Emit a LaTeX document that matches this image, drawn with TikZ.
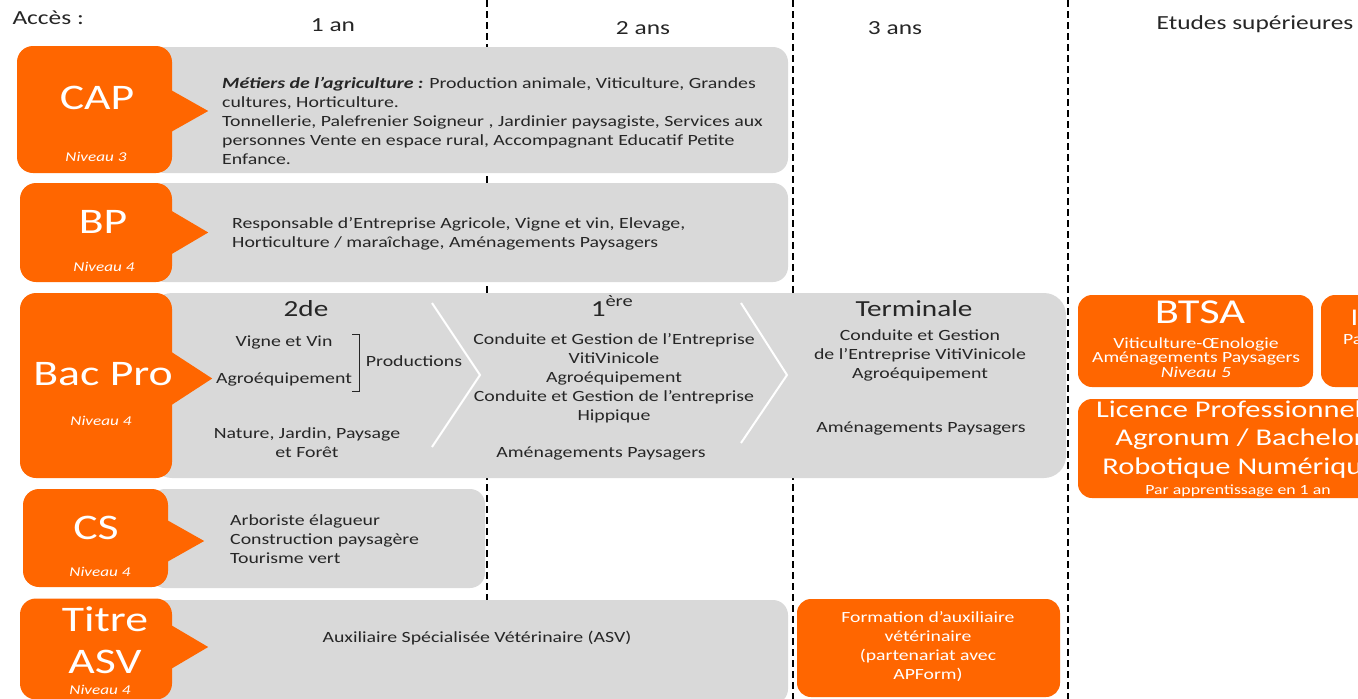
\documentclass[tikz,border=0pt]{standalone}
\usepackage{fontspec}
\setmainfont{Carlito}[FakeStretch=1.27]
\usetikzlibrary{positioning}
\definecolor{orangeL}{RGB}{255,102,0}
\definecolor{greyL}{RGB}{217,217,217}
\definecolor{txtL}{RGB}{38,38,38}
\newcommand{\fsz}[2]{\fontsize{#1}{#2}\selectfont}
\newcommand{\pointer}[4]{\fill[orangeL] ([xshift=-3pt, yshift=#4+#2]#1.east) -- ([xshift=#3, yshift=#4]#1.east) -- ([xshift=-3pt, yshift=#4-#2]#1.east) -- cycle;}

\begin{document}
\begin{tikzpicture}[
		x=1pt, y=-1pt,
		obox/.style={fill=orangeL, rounded corners=16pt, inner sep=0pt},
		gbox/.style={fill=greyL, rounded corners=15pt, inner sep=0pt},
		dashline/.style={black, line width=2pt, dash pattern=on 7pt off 4pt},
		head/.style={text=txtL, font=\fsz{20}{24}},
		big/.style={text=white, font=\fsz{36}{40}},
		niv/.style={text=white, font=\fsz{13.5}{15}\itshape},
		gtxt/.style={text=txtL, font=\fsz{15.6}{19}, align=left, inner sep=0pt},
		ctxt/.style={text=txtL, font=\fsz{15.6}{19}, align=center, inner sep=0pt},
		wtxt/.style={text=white, font=\fsz{15.5}{19}, align=center, inner sep=0pt},
		chev/.style={white, line width=2pt},
	]
	\useasboundingbox (0,0) rectangle (1358,699);
	\clip (0,0) rectangle (1358,699);

	\draw[dashline] (487,0) -- (487,699);
	\draw[dashline] (793,0) -- (793,699);
	\draw[dashline] (1068,0) -- (1068,699);

	\node[head, anchor=west] (acces) at (9,18) {Accès :};
	\node[head] (an1) at (333,25) {1 an};
	\node[head] (an2) at (643,28) {2 ans};
	\node[head] (an3) at (895,28) {3 ans};
	\node[head] (etudes) at (1255,24) {Etudes supérieures};

	% grey rows
	\node[gbox, minimum width=638, minimum height=126] (capg) at (469,110) {};
	\node[gbox, minimum width=638, minimum height=99] (bpg) at (469,232.5) {};
	\node[gbox, minimum width=916, minimum height=185, rounded corners=22pt] (bacg) at (608,385.5) {};
	\node[gbox, minimum width=335, minimum height=99] (csg) at (317.5,538.5) {};
	\node[gbox, minimum width=638, minimum height=104] (asvg) at (469,652) {};

	% orange heads
	\node[obox, minimum width=155, minimum height=127] (cap) at (94.5,109.5) {};
	\node[obox, minimum width=152, minimum height=99] (bp) at (96,232.5) {};
	\node[obox, minimum width=152, minimum height=185] (bacpro) at (96,385.5) {};
	\node[obox, minimum width=145, minimum height=98] (cs) at (95.5,538) {};
	\node[obox, minimum width=152, minimum height=101] (asv) at (96,649) {};

	\pointer{cap}{22pt}{36pt}{-1.5pt}
	\pointer{bp}{23pt}{36pt}{0pt}
	\pointer{bacpro}{28pt}{40pt}{7pt}
	\pointer{cs}{22pt}{36pt}{-3pt}
	\pointer{asv}{23pt}{36pt}{2pt}

	\node[big] (captit) at (97,98) {CAP};
	\node[niv] (capniv) at (96,157) {Niveau 3};
	\node[big] (bptit) at (103,222) {BP};
	\node[niv] (bpniv) at (104,267) {Niveau 4};
	\node[big] (bactit) at (103,374) {Bac Pro};
	\node[niv] (bacniv) at (101,421) {Niveau 4};
	\node[big] (cstit) at (96,528) {CS};
	\node[niv] (csniv) at (100,572) {Niveau 4};
	\node[big] (asvtit1) at (105,619) {Titre};
	\node[big] (asvtit2) at (105,662) {ASV};
	\node[niv] (asvniv) at (100,690) {Niveau 4};

	% row texts
	\node[gtxt, anchor=west] (captxt) at (222,120.5) {\textbf{\textit{Métiers de l’agriculture :}} Production  animale, Viticulture, Grandes\\cultures, Horticulture.\\Tonnellerie, Palefrenier Soigneur , Jardinier paysagiste, Services aux\\personnes Vente en espace rural, Accompagnant Educatif Petite\\Enfance.};
	\node[gtxt, anchor=west] (bptxt) at (232,233.5) {Responsable d’Entreprise Agricole, Vigne et vin, Elevage,\\Horticulture  / maraîchage, Aménagements  Paysagers};
	\node[gtxt, anchor=west] (cstxt) at (230,539.5) {Arboriste  élagueur\\Construction  paysagère\\Tourisme vert};
	\node[ctxt] (asvtxt) at (477,638) {Auxiliaire Spécialisée Vétérinaire (ASV)};

	% bac pro
	\draw[chev] (432,303) -- (480,375) -- (432,447);
	\draw[chev] (741,303) -- (787,375) -- (741,443);

	\node[head, font=\fsz{23}{24}] (seconde) at (306,309) {2de};
	\node[head, font=\fsz{23}{24}] (premiere) at (612,306) {1\textsuperscript{ère}};
	\node[head, font=\fsz{23}{24}] (terminale) at (914,309) {Terminale};

	\node[ctxt] (vigne) at (284,342) {Vigne et Vin};
	\node[ctxt] (agro) at (284,379) {Agroéquipement};
	\draw[txtL, line width=1pt] (352,334) -- (359,334) -- (359,391) -- (352,391);
	\node[ctxt] (prod) at (414,361) {Productions};
	\node[ctxt] (nature) at (307,442.5) {Nature, Jardin,  Paysage\\et Forêt};

	\node[ctxt] (prem1) at (614,378.5) {Conduite et Gestion de l’Entreprise\\VitiVinicole\\Agroéquipement\\Conduite et Gestion de l’entreprise\\Hippique};
	\node[ctxt] (prem2) at (601,454) {Aménagements Paysagers};

	\node[ctxt] (term1) at (920,355.5) {Conduite et Gestion\\de l’Entreprise VitiVinicole\\Agroéquipement};
	\node[ctxt] (term2) at (921,429) {Aménagements  Paysagers};

	% formation
	\node[obox, minimum width=263, minimum height=98, rounded corners=14pt] (form) at (928.5,648) {};
	\node[wtxt] (formtxt) at (928,646.5) {Formation  d’auxiliaire\\vétérinaire\\(partenariat avec\\APForm)};

	% etudes superieures
	\node[obox, minimum width=235, minimum height=92, rounded corners=14pt] (btsa) at (1195.5,341) {};
	\node[obox, minimum width=235, minimum height=92, rounded corners=14pt] (autre) at (1438.5,341) {};
	\node[obox, minimum width=330, minimum height=99, rounded corners=14pt] (licence) at (1243,448.5) {};

	\node[big, font=\fsz{35}{38}] (btsatit) at (1200,312) {BTSA};
	\node[wtxt, font=\fsz{15.5}{14.5}] (btsatxt) at (1196,357.5) {Viticulture-Œnologie\\Aménagements  Paysagers\\\textit{Niveau 5}};
	\node[big, font=\fsz{24}{26}, anchor=west] (autretit) at (1347,318) {I};
	\node[wtxt, anchor=west] (autretxt) at (1343,340) {Pa};
	\node[wtxt, font=\fsz{24}{28.5}] (licencetxt) at (1240,439.5) {Licence Professionnelle\\Agronum / Bachelor\\Robotique Numérique};
	\node[wtxt, font=\fsz{14}{16}] (licencepar) at (1238,491) {Par apprentissage en 1 an};
\end{tikzpicture}
\end{document}
